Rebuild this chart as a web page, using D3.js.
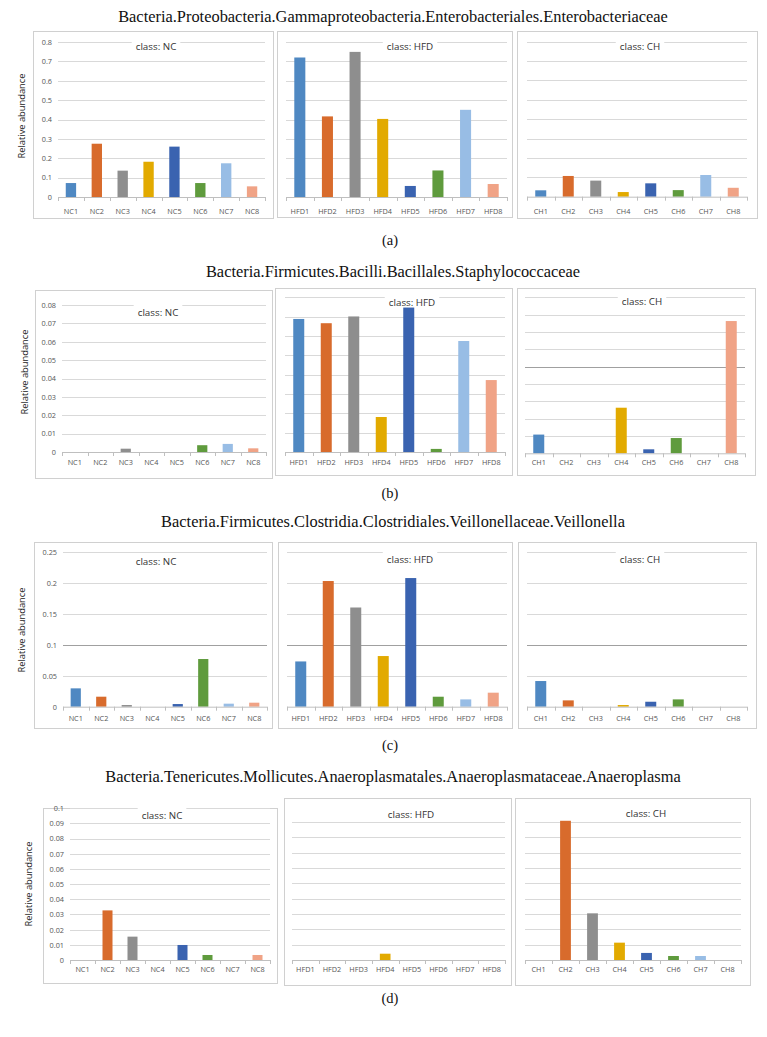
<!DOCTYPE html>
<html><head><meta charset="utf-8">
<script src="https://cdn.jsdelivr.net/npm/d3@7"></script>
<style>body{margin:0;background:#fff}</style>
</head><body><svg id="c" width="767" height="1037"></svg>
<script>
// ---------- data ----------
const ncLabels  = ["NC1","NC2","NC3","NC4","NC5","NC6","NC7","NC8"];
const hfdLabels = ["HFD1","HFD2","HFD3","HFD4","HFD5","HFD6","HFD7","HFD8"];
const chLabels  = ["CH1","CH2","CH3","CH4","CH5","CH6","CH7","CH8"];
const classNames = ["NC","HFD","CH"];
const titles = [
  "Bacteria.Proteobacteria.Gammaproteobacteria.Enterobacteriales.Enterobacteriaceae",
  "Bacteria.Firmicutes.Bacilli.Bacillales.Staphylococcaceae",
  "Bacteria.Firmicutes.Clostridia.Clostridiales.Veillonellaceae.Veillonella",
  "Bacteria.Tenericutes.Mollicutes.Anaeroplasmatales.Anaeroplasmataceae.Anaeroplasma"
];
const captions = ["(a)","(b)","(c)","(d)"];
const yLabel = "Relative abundance";

const ticksA = [0,0.1,0.2,0.3,0.4,0.5,0.6,0.7,0.8];
const ticksB = [0,0.01,0.02,0.03,0.04,0.05,0.06,0.07,0.08];
const ticksBch = [0,0.001,0.002,0.003,0.004,0.005,0.006,0.007,0.008,0.009];
const ticksC = [0,0.05,0.1,0.15,0.2,0.25];
const ticksD = [0,0.01,0.02,0.03,0.04,0.05,0.06,0.07,0.08,0.09,0.1];

const aNC  = [0.072,0.275,0.136,0.182,0.26,0.072,0.174,0.055];
const aHFD = [0.72,0.416,0.749,0.403,0.057,0.137,0.45,0.067];
const aCH  = [0.033,0.107,0.083,0.024,0.069,0.034,0.112,0.046];
const bNC  = [0,0,0.0018,0,0,0.0037,0.0044,0.002];
const bHFD = [0.0688,0.0666,0.0701,0.0181,0.0747,0.0016,0.0574,0.0372];
const bCH  = [0.00108,0,0,0.00263,0.00023,0.00088,0,0.00763];
const cNC  = [0.0297,0.0162,0.0027,0,0.0043,0.0772,0.0049,0.0065];
const cHFD = [0.073,0.2027,0.160,0.0817,0.2075,0.0161,0.0118,0.0226];
const cCH  = [0.0414,0.0102,0,0.0027,0.008,0.0118,0,0];
const dNC  = [0,0.0327,0.0154,0,0.0099,0.0033,0,0.0033];
const dHFD = [0,0,0,0.0041,0,0,0,0];
const dCH  = [0,0.0907,0.0304,0.0113,0.0046,0.0026,0.0026,0];

const colors = ["#4F88C2","#D86B2C","#8E8E8E","#E2AA00","#3A63B0","#5F9B3D","#98BDE5","#F0A386"];

// ---------- layout ----------
const rows = [
  {title:titles[0], titleY:22, cap:captions[0], capY:245, ylab:{x:22,y:116},
   panels:[
    {cls:0, labels:ncLabels, vals:aNC, ticks:ticksA, box:[33,31,273,218], px:[58,265], yz:197, yt:42, showY:true, lab:[156,50], catY:214},
    {cls:1, labels:hfdLabels, vals:aHFD, ticks:ticksA, box:[277,31,512,217], px:[286,507], yz:197, yt:42, lab:[410,50], catY:214},
    {cls:2, labels:chLabels, vals:aCH, ticks:ticksA, box:[517,31,757,218], px:[527,747], yz:196.7, yt:41.7, lab:[640,50], catY:214}
  ]},
  {title:titles[1], titleY:277, cap:captions[1], capY:498, ylab:{x:25,y:372},
   panels:[
    {cls:0, labels:ncLabels, vals:bNC, ticks:ticksB, box:[35,290,272,478], px:[62,266], yz:452, yt:305, showY:true, lab:[158,316], catY:465},
    {cls:1, labels:hfdLabels, vals:bHFD, ticks:ticksB, box:[275,288,512,475], px:[285,505], yz:452, yt:297.3, lab:[412,306], catY:465},
    {cls:2, labels:chLabels, vals:bCH, ticks:ticksBch, box:[517,288,755,475], px:[525,745], yz:453.3, yt:297.3, lab:[642,305], catY:465, dark:0.005}
  ]},
  {title:titles[2], titleY:527, cap:captions[2], capY:750, ylab:{x:22,y:630},
   panels:[
    {cls:0, labels:ncLabels, vals:cNC, ticks:ticksC, box:[34,542,272,728], px:[63,267], yz:706.7, yt:552.3, showY:true, lab:[156,565], catY:721, dark:0.1},
    {cls:1, labels:hfdLabels, vals:cHFD, ticks:ticksC, box:[278,542,512,728], px:[287,507], yz:706.7, yt:551.7, lab:[410,563], catY:721, dark:0.1},
    {cls:2, labels:chLabels, vals:cCH, ticks:ticksC, box:[518,542,756,728], px:[527,747], yz:706.7, yt:551.7, lab:[640,563], catY:721, dark:0.1}
  ]},
  {title:titles[3], titleY:782, cap:captions[3], capY:1003, ylab:{x:29,y:884},
   panels:[
    {cls:0, labels:ncLabels, vals:dNC, ticks:ticksD, box:[43,808,277,983], px:[70,270], yz:960, yt:808.3, showY:true, lab:[162,819], catY:972},
    {cls:1, labels:hfdLabels, vals:dHFD, ticks:ticksD, box:[284,798,511,985], px:[292,505], yz:960, yt:806.5, lab:[411,818], catY:972, hideTop:true},
    {cls:2, labels:chLabels, vals:dCH, ticks:ticksD, box:[515,798,750,985], px:[525,741], yz:960, yt:806.5, lab:[646,817], catY:972, hideTop:true}
  ]}
];

const svg = d3.select("#c");
const sans = "'Open Sans', 'Noto Sans', sans-serif";
const serif = "'Liberation Serif', 'DejaVu Serif', serif";

rows.forEach(row => {
  svg.append("text").attr("x",393).attr("y",row.titleY).attr("text-anchor","middle")
    .attr("font-family",serif).attr("font-size",16.4).attr("fill","#111").text(row.title);
  svg.append("text").attr("x",390).attr("y",row.capY).attr("text-anchor","middle")
    .attr("font-family",serif).attr("font-size",14.5).attr("fill","#111").text(row.cap);

  row.panels.forEach(p => {
    const g = svg.append("g");
    const [bx0,by0,bx1,by1] = p.box;
    g.append("rect").attr("x",bx0+0.5).attr("y",by0+0.5).attr("width",bx1-bx0).attr("height",by1-by0)
      .attr("fill","#fff").attr("stroke","#d0d0d0").attr("stroke-width",1);

    const x = d3.scaleBand().domain(p.labels).range(p.px).paddingInner(0.6).paddingOuter(0.3);
    const y = d3.scaleLinear().domain([0, p.ticks[p.ticks.length-1]]).range([p.yz, p.yt]);

    // gridlines
    const gt = p.ticks.filter((t,i) => t>0 && !(p.hideTop && i===p.ticks.length-1));
    g.selectAll("line.grid").data(gt).enter().append("line")
      .attr("x1",p.px[0]).attr("x2",p.px[1])
      .attr("y1",d=>Math.round(y(d))+0.5).attr("y2",d=>Math.round(y(d))+0.5)
      .attr("stroke",d=> (p.dark!==undefined && Math.abs(d-p.dark)<1e-9) ? "#a0a0a0" : "#d9d9d9")
      .attr("stroke-width",1);

    // class label with white background
    const lt = g.append("text").attr("x",p.lab[0]).attr("y",p.lab[1]).attr("text-anchor","middle")
      .attr("font-family",sans).attr("font-size",9.8).attr("fill","#333")
      .text("class: "+classNames[p.cls]);
    const bb = lt.node().getBBox();
    g.insert("rect", "text").attr("x",bb.x-4).attr("y",bb.y-1).attr("width",bb.width+8).attr("height",bb.height+2).attr("fill","#fff");

    // bars
    g.selectAll("rect.bar").data(p.vals).enter().append("rect")
      .attr("x",(d,i)=>x(p.labels[i])).attr("width",x.bandwidth())
      .attr("y",d=>y(d)).attr("height",d=>p.yz-y(d))
      .attr("fill",(d,i)=>colors[i]);

    // x axis
    const xa = g.append("g").attr("transform",`translate(0,${p.yz})`)
      .call(d3.axisBottom(x).tickSize(0).tickPadding(0));
    xa.select(".domain").attr("stroke","#bfbfbf").attr("d",`M${p.px[0]},0.5H${p.px[1]}`);
    xa.selectAll(".tick text").attr("y",p.catY-p.yz).attr("dy",0)
      .attr("font-family",sans).attr("font-size",7.3).attr("fill","#555");
    xa.selectAll("line.bt").data(d3.range(p.labels.length+1)).enter().append("line")
      .attr("x1",i=>Math.round(x.range()[0] + i*(x.range()[1]-x.range()[0])/p.labels.length)+0.5)
      .attr("x2",i=>Math.round(x.range()[0] + i*(x.range()[1]-x.range()[0])/p.labels.length)+0.5)
      .attr("y1",0).attr("y2",4).attr("stroke","#bfbfbf");

    // y axis labels (NC panels only)
    if (p.showY) {
      const ya = g.append("g").attr("transform",`translate(${p.px[0]-6},0)`)
        .call(d3.axisLeft(y).tickValues(p.ticks).tickSize(0).tickPadding(0).tickFormat(d=>String(d)));
      ya.select(".domain").remove();
      ya.selectAll(".tick text").attr("font-family",sans).attr("font-size",7.3).attr("fill","#555");
    }
  });

  svg.append("text").attr("transform",`translate(${row.ylab.x},${row.ylab.y}) rotate(-90)`)
    .attr("text-anchor","middle").attr("dy","0.35em")
    .attr("font-family",sans).attr("font-size",9.3).attr("fill","#222").text(yLabel);
});
</script></body></html>
